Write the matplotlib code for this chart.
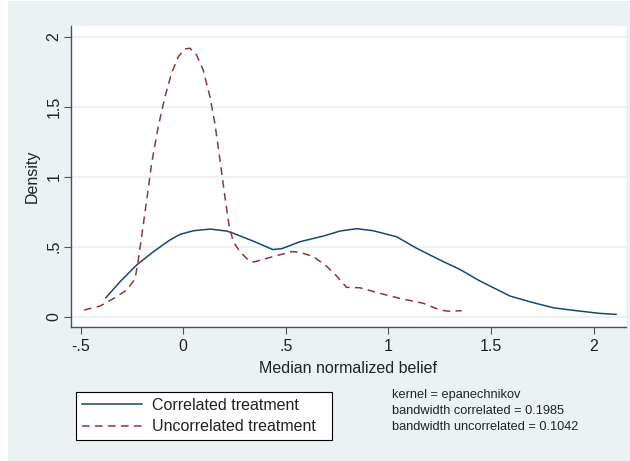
import matplotlib
matplotlib.use("Agg")
import matplotlib.pyplot as plt
from matplotlib.patches import Rectangle

plt.rcParams['font.family'] = ['Liberation Sans', 'DejaVu Sans']

# kernel density curves
corr_x = [-0.377, -0.308, -0.227, -0.146, -0.065, -0.016, 0.049, 0.13, 0.211, 0.244,
          0.341, 0.436, 0.48, 0.569, 0.682, 0.764, 0.845, 0.926, 1.04, 1.137,
          1.251, 1.348, 1.446, 1.592, 1.689, 1.803, 1.917, 2.03, 2.109]
corr_y = [0.136, 0.25, 0.37, 0.464, 0.548, 0.588, 0.614, 0.626, 0.612, 0.596,
          0.54, 0.48, 0.486, 0.536, 0.576, 0.612, 0.629, 0.614, 0.571, 0.489,
          0.405, 0.338, 0.255, 0.148, 0.107, 0.064, 0.043, 0.024, 0.017]

uncorr_x = [-0.483, -0.406, -0.34, -0.276, -0.235, -0.219, -0.203, -0.178, -0.154, -0.122,
            -0.089, -0.057, -0.024, 0.008, 0.033, 0.065, 0.097, 0.13, 0.154, 0.179,
            0.203, 0.224, 0.244, 0.276, 0.317, 0.341, 0.439, 0.528, 0.569, 0.634,
            0.699, 0.748, 0.796, 0.861, 0.959, 1.056, 1.17, 1.251, 1.29, 1.357]
uncorr_y = [0.048, 0.076, 0.13, 0.19, 0.27, 0.405, 0.571, 0.833, 1.096, 1.357,
            1.571, 1.739, 1.857, 1.912, 1.917, 1.869, 1.762, 1.571, 1.381, 1.119,
            0.857, 0.643, 0.536, 0.464, 0.405, 0.39, 0.43, 0.465, 0.46, 0.43,
            0.36, 0.29, 0.21, 0.207, 0.167, 0.131, 0.096, 0.048, 0.04, 0.043]

xticks = [-0.5, 0, 0.5, 1, 1.5, 2]
xtick_labels = ['-.5', '0', '.5', '1', '1.5', '2']
yticks = [0, 0.5, 1, 1.5, 2]
ytick_labels = ['0', '.5', '1', '1.5', '2']

notes = ['kernel = epanechnikov',
         'bandwidth correlated = 0.1985',
         'bandwidth uncorrelated = 0.1042']

W, H = 630, 461
bg = '#EAF2F3'
navy = '#1A476F'
maroon = '#90353B'

fig = plt.figure(figsize=(W / 100, H / 100), dpi=100, facecolor='white')
# light graph region (a thin white strip is left on the left side)
fig.patches.append(Rectangle((8 / W, 0), 1 - 8 / W, 1 - 1 / H, transform=fig.transFigure,
                             facecolor=bg, edgecolor='none', zorder=-10))

ax = fig.add_axes([71 / W, 1 - 326.7 / H, 554.5 / W, 300.7 / H])
ax.set_facecolor('white')

ax.plot(corr_x, corr_y, color=navy, lw=1.1, label='Correlated treatment', zorder=3)
ax.plot(uncorr_x, uncorr_y, color=maroon, lw=1.1, dashes=(5, 3.5),
        label='Uncorrelated treatment', zorder=3)

ax.set_xlim(-0.547, 2.155)
ax.set_ylim(-0.071, 2.076)
ax.set_xticks(xticks)
ax.set_xticklabels(xtick_labels)
ax.set_yticks(yticks)
ax.set_yticklabels(ytick_labels, rotation=90, va='center')

ax.grid(axis='y', color=bg, lw=1.5, zorder=0)
ax.grid(axis='x', visible=False)
for s in ['top', 'right']:
    ax.spines[s].set_visible(False)
for s in ['left', 'bottom']:
    ax.spines[s].set_color('#505050')
    ax.spines[s].set_linewidth(1.0)
ax.tick_params(direction='out', length=5, width=0.8, color='#505050',
               labelsize=11.5, labelcolor='#222222', pad=4)
ax.tick_params(axis='y', pad=2)

ax.set_xlabel('Median normalized belief', fontsize=11.5, color='#222222', labelpad=5)
ax.set_ylabel('Density', fontsize=11.5, color='#222222', labelpad=5)

leg = fig.legend(loc='lower left', bbox_to_anchor=(76 / W, 1 - 440 / H, 256 / W, 52 / H),
                 mode='expand', borderaxespad=0, fontsize=11.5, handlelength=3.8,
                 handletextpad=0.6, labelspacing=0.4, borderpad=0.35,
                 fancybox=False, framealpha=1, edgecolor='black', facecolor='white')
leg.get_frame().set_linewidth(0.8)
for t in leg.get_texts():
    t.set_color('#222222')

for i, line in enumerate(notes):
    fig.text(392 / W, 1 - (395 + 16 * i) / H, line, fontsize=9.2, color='#222222',
             va='center', ha='left')

fig.savefig('out.png', dpi=100, facecolor=fig.get_facecolor())
